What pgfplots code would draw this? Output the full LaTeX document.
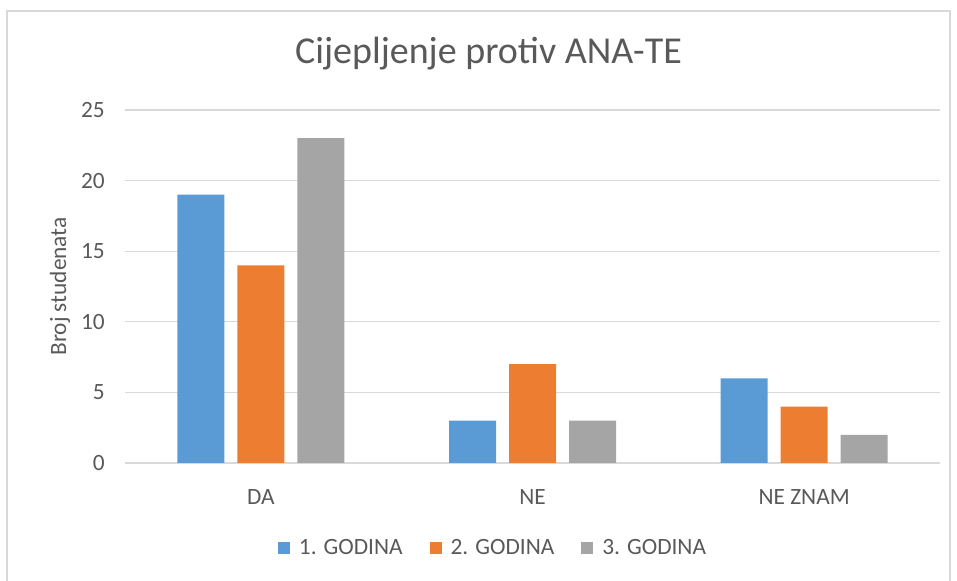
\documentclass[border=0pt]{standalone}
\usepackage{pgfplots}
\pgfplotsset{compat=1.18}
\usepackage{fontspec}
\setmainfont{Carlito}

\definecolor{xlblue}{HTML}{5B9BD5}
\definecolor{xlorange}{HTML}{ED7D31}
\definecolor{xlgray}{HTML}{A5A5A5}
\definecolor{gridgray}{HTML}{D9D9D9}
\definecolor{txtgray}{HTML}{595959}

\newlength\px
\setlength\px{0.75pt}

\begin{document}
\begin{tikzpicture}
    \begin{axis}[
        % Size
        scale only axis,
        width  = 815\px,
        height = 353\px,
        % Bars
        ybar = 13\px,
        bar width = 47\px,
        % Axes
        xmin = -0.5, xmax = 2.5,
        ymin = 0, ymax = 25,
        xtick = {0,1,2},
        xticklabels = {DA, NE, NE ZNAM},
        ytick = {0,5,...,25},
        major tick length = 0pt,
        axis line style = {draw=none},
        ymajorgrids = true,
        grid style = {gridgray, line width=1.2\px},
        % Text
        font = \fontsize{17.5}{20}\selectfont,
        /pgf/number format/assume math mode = true,
        tick label style = {txtgray, inner sep=0pt},
        x tick label style = {anchor=center, yshift=-34\px},
        y tick label style = {anchor=east, xshift=-20\px},
        ylabel = {Broj studenata},
        ylabel style = {at={(rel axis cs:0,0.5)}, rotate=0, yshift=65\px,
            anchor=center, txtgray, inner sep=0pt},
        title = {Cijepljenje protiv ANA-TE},
        title style = {at={(rel axis cs:0.5,1)}, xshift=-44\px, yshift=48\px,
            anchor=center, txtgray, inner sep=0pt,
            font=\fontsize{28.5}{32}\selectfont},
        % Legend
        legend columns = 3,
        legend style = {
            at={(rel axis cs:0,0)}, xshift=367\px, yshift=-85\px,
            anchor=center, draw=none, fill=none, text=txtgray,
            /tikz/every even column/.append style={column sep=27\px},
            nodes={inner sep=0pt, inner xsep=0pt}
        },
        legend image code/.code={
            \fill[#1] (0pt,-6\px) rectangle (12\px,6\px);
        },
        legend cell align = left,
    ]

        % 1. godina
        \addplot[fill=xlblue, draw=none] coordinates {
            (0, 19) (1, 3) (2, 6)
        };

        % 2. godina
        \addplot[fill=xlorange, draw=none] coordinates {
            (0, 14) (1, 7) (2, 4)
        };

        % 3. godina
        \addplot[fill=xlgray, draw=none] coordinates {
            (0, 23) (1, 3) (2, 2)
        };

        \legend{\hspace{9\px}1. GODINA, \hspace{9\px}2. GODINA, \hspace{9\px}3. GODINA}
    \end{axis}

    % chart frame
    \draw[gridgray, line width=1.5\px] (-118\px,-140\px) rectangle (825\px,452\px);
    \pgfresetboundingbox
    \path[use as bounding box] (-125\px,-118\px) rectangle (832\px,463\px);
\end{tikzpicture}
\end{document}
